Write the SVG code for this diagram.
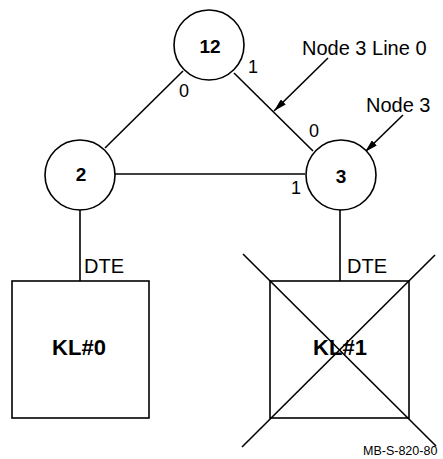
<svg xmlns="http://www.w3.org/2000/svg" width="443" height="459" viewBox="0 0 443 459">
<style>
.s{fill:none;stroke:#000;stroke-width:1.6}
.n{fill:#fff;stroke:#000;stroke-width:1.6}
text{font-family:"Liberation Sans",Arial,sans-serif;fill:#000}
.b{font-weight:bold;text-anchor:middle}
.d{font-size:18px;text-anchor:middle}
.l{font-size:20px}
</style>
<defs>
<marker id="ah" viewBox="0 0 13 7" refX="13" refY="3.5" markerWidth="13" markerHeight="7" markerUnits="userSpaceOnUse" orient="auto">
<path d="M0,0 L13,3.5 L0,7 Z" fill="#000"/>
</marker>
</defs>
<rect width="443" height="459" fill="#fff"/>
<g id="connectors">
<line class="s" x1="105" y1="148" x2="183" y2="71"/>
<line class="s" x1="234" y1="73" x2="313" y2="151"/>
<line class="s" x1="115" y1="174" x2="305" y2="174"/>
<line class="s" x1="80" y1="210" x2="80" y2="281"/>
<line class="s" x1="340" y1="210" x2="340" y2="281"/>
<line class="s" x1="328" y1="58" x2="274" y2="111" marker-end="url(#ah)"/>
<line class="s" x1="403" y1="115" x2="365" y2="152" marker-end="url(#ah)"/>
<text class="d" x="184" y="97">0</text>
<text class="d" x="253" y="73">1</text>
<text class="d" x="314" y="137">0</text>
<text class="d" x="296" y="194">1</text>
<text class="l" x="84" y="273">DTE</text>
<text class="l" x="347" y="273">DTE</text>
</g>
<g id="node12">
<circle class="n" cx="209" cy="45" r="35"/>
<text class="b" x="210" y="53" font-size="19">12</text>
</g>
<g id="node2">
<circle class="n" cx="80" cy="175" r="35"/>
<text class="b" x="81" y="181" font-size="19">2</text>
</g>
<g id="node3">
<circle class="n" cx="341" cy="175" r="35"/>
<text class="b" x="341" y="183" font-size="19">3</text>
</g>
<g id="kl0">
<rect class="n" x="12" y="281" width="137" height="137"/>
<text class="b" x="79" y="355" font-size="22">KL#0</text>
</g>
<g id="kl1">
<rect class="n" x="270" y="281" width="139" height="137"/>
<text class="b" x="340" y="355" font-size="22">KL#1</text>
<line class="s" x1="243" y1="254" x2="436" y2="446"/>
<line class="s" x1="435" y1="255" x2="242" y2="447"/>
</g>
<g id="labels">
<text class="l" x="302" y="55">Node 3 Line 0</text>
<text class="l" x="366" y="112">Node 3</text>
<text x="363" y="455" font-size="12.5">MB-S-820-80</text>
</g>
</svg>
